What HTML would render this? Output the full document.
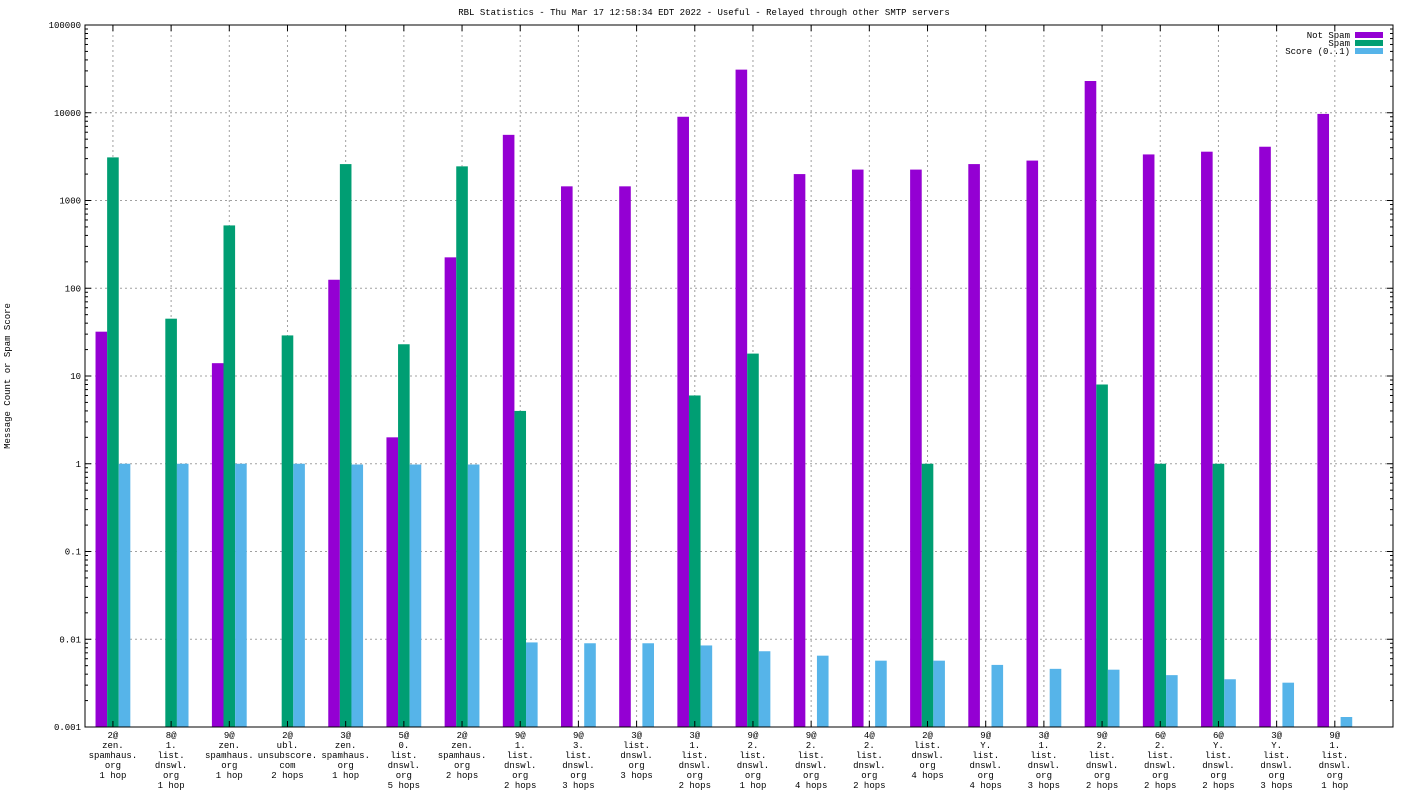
<!DOCTYPE html>
<html><head><meta charset="utf-8"><style>
html,body{margin:0;padding:0;background:#fff;}
svg{display:block;font-family:"Liberation Mono","DejaVu Sans Mono",monospace;}
</style></head><body>
<svg id="chart" width="1408" height="792" xmlns="http://www.w3.org/2000/svg">
<rect width="1408" height="792" fill="#fff"/>
<text x="704" y="15" font-size="9" text-anchor="middle">RBL Statistics - Thu Mar 17 12:58:34 EDT 2022 - Useful - Relayed through other SMTP servers</text>
<text transform="translate(10,376) rotate(-90)" font-size="9" text-anchor="middle">Message Count or Spam Score</text>
<g id="grid"></g><g id="bars"></g><g id="axes"></g><g id="labels"></g>
<g>
<text x="1350" y="38" font-size="9" text-anchor="end">Not Spam</text>
<rect x="1355" y="32" width="28" height="6" fill="#9400d3"/>
<text x="1350" y="46" font-size="9" text-anchor="end">Spam</text>
<rect x="1355" y="40" width="28" height="6" fill="#009e73"/>
<text x="1350" y="54" font-size="9" text-anchor="end">Score (0..1)</text>
<rect x="1355" y="48" width="28" height="6" fill="#56b4e9"/>
</g>
</svg>
<script>
const categories=[
["2@","zen.","spamhaus.","org","1 hop"],["8@","1.","list.","dnswl.","org","1 hop"],["9@","zen.","spamhaus.","org","1 hop"],["2@","ubl.","unsubscore.","com","2 hops"],["3@","zen.","spamhaus.","org","1 hop"],["5@","0.","list.","dnswl.","org","5 hops"],["2@","zen.","spamhaus.","org","2 hops"],["9@","1.","list.","dnswl.","org","2 hops"],["9@","3.","list.","dnswl.","org","3 hops"],["3@","list.","dnswl.","org","3 hops"],["3@","1.","list.","dnswl.","org","2 hops"],["9@","2.","list.","dnswl.","org","1 hop"],["9@","2.","list.","dnswl.","org","4 hops"],["4@","2.","list.","dnswl.","org","2 hops"],["2@","list.","dnswl.","org","4 hops"],["9@","Y.","list.","dnswl.","org","4 hops"],["3@","1.","list.","dnswl.","org","3 hops"],["9@","2.","list.","dnswl.","org","2 hops"],["6@","2.","list.","dnswl.","org","2 hops"],["6@","Y.","list.","dnswl.","org","2 hops"],["3@","Y.","list.","dnswl.","org","3 hops"],["9@","1.","list.","dnswl.","org","1 hop"]];
const notSpam=[32,null,14,null,125,2,225,5600,1450,1450,9000,31000,2000,2250,2250,2600,2850,23000,3350,3600,4100,9700];
const spam=[3100,45,520,29,2600,23,2450,4,null,null,6,18,null,null,1,null,null,8,1,1,null,null];
const score=[1,1,1,1,0.98,0.98,0.98,0.0092,0.009,0.009,0.0085,0.0073,0.0065,0.0057,0.0057,0.0051,0.0046,0.0045,0.0039,0.0035,0.0032,0.0013];
const yTicks=[0.001,0.01,0.1,1,10,100,1000,10000,100000];
const yTickLabels=["0.001","0.01","0.1","1","10","100","1000","10000","100000"];
const NS="http://www.w3.org/2000/svg";
const L=85,R=1393,T=25,B=727;
const yMinLog=-3,yMaxLog=5;
function y(v){return B-(Math.log10(v)-yMinLog)/(yMaxLog-yMinLog)*(B-T);}
const x0=-0.48,x1=22;
function x(i){return L+(i-x0)/(x1-x0)*(R-L);}
function mk(tag,attrs,parent){const e=document.createElementNS(NS,tag);for(const k in attrs)e.setAttribute(k,attrs[k]);parent.appendChild(e);return e;}
const grid=document.getElementById('grid'),bars=document.getElementById('bars'),axes=document.getElementById('axes'),labels=document.getElementById('labels');
yTicks.forEach((t,k)=>{
 const yy=y(t);
 if(k>0&&k<yTicks.length-1){const g=mk('line',{x1:L,x2:R,y1:yy,y2:yy,stroke:'#a0a0a0','stroke-dasharray':'2,3','stroke-width':1},grid);
 
 }
 const tx=mk('text',{x:L-4,y:yy+3,'font-size':9,'text-anchor':'end'},labels);tx.textContent=yTickLabels[k];
 
 
 mk('line',{x1:L,x2:L+6,y1:yy,y2:yy,stroke:'#000'},axes);mk('line',{x1:R,x2:R-6,y1:yy,y2:yy,stroke:'#000'},axes);
 if(k<yTicks.length-1){for(let m=2;m<10;m++){const my=y(t*m);mk('line',{x1:L,x2:L+3,y1:my,y2:my,stroke:'#000'},axes);mk('line',{x1:R,x2:R-3,y1:my,y2:my,stroke:'#000'},axes);}}
});
const bw=11.6;
categories.forEach((c,i)=>{
 const cx=x(i);
 const g=mk('line',{x1:cx,x2:cx,y1:T,y2:B,stroke:'#a0a0a0','stroke-dasharray':'2,3'},grid);
 
 
 mk('line',{x1:cx,x2:cx,y1:B,y2:B-6,stroke:'#000'},axes);mk('line',{x1:cx,x2:cx,y1:T,y2:T+6,stroke:'#000'},axes);
 [[notSpam,'#9400d3',-1,'bar-not-spam'],[spam,'#009e73',0,'bar-spam'],[score,'#56b4e9',1,'bar-score']].forEach(([arr,col,off,nm])=>{
  const v=arr[i];if(v==null)return;
  const yy=y(v);
  const r=mk('rect',{x:cx+off*bw-bw/2,y:yy,width:bw,height:B-yy,fill:col},bars);
  
  
 });
 c.forEach((ln,j)=>{const t=mk('text',{x:cx,y:738+j*10,'font-size':9,'text-anchor':'middle'},labels);t.textContent=ln;
  
  });
});
const fr=mk('rect',{x:L,y:T,width:R-L,height:B-T,fill:'none',stroke:'#000','stroke-width':1},axes);


</script>
</body></html>
